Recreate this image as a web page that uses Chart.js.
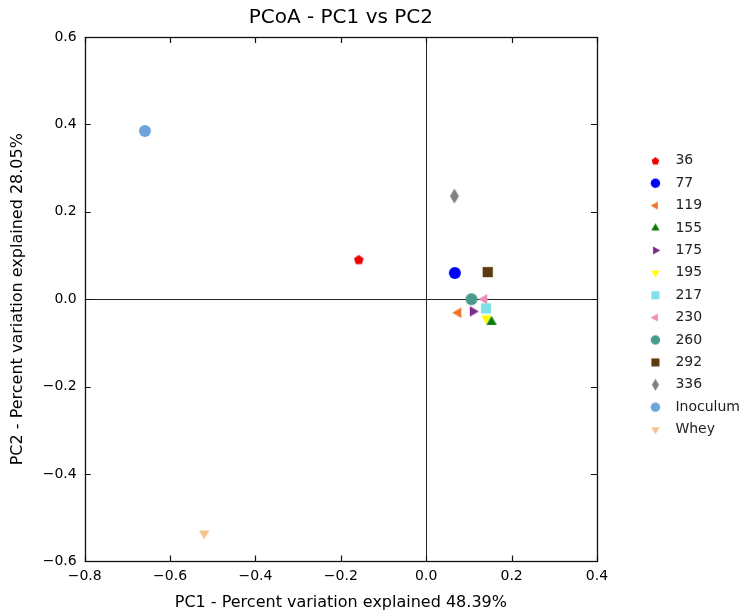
<!DOCTYPE html>
<html>
<head>
<meta charset="utf-8">
<script src="https://cdn.jsdelivr.net/npm/chart.js@4.4.1/dist/chart.umd.min.js"></script>
<style>
  html, body { margin: 0; padding: 0; background: #ffffff; }
  #wrap { width: 745px; height: 615px; }
</style>
</head>
<body>
<div id="wrap"><canvas id="c" width="745" height="615"></canvas></div>
<script>
// ---- data ----
const sampleLabels = ['36', '77', '119', '155', '175', '195', '217', '230', '260', '292', '336', 'Inoculum', 'Whey'];
const pc1Values = [-0.158, 0.067, 0.075, 0.153, 0.109, 0.141, 0.140, 0.136, 0.106, 0.144, 0.066, -0.659, -0.520];
const pc2Values = [0.091, 0.060, -0.031, -0.052, -0.028, -0.044, -0.021, 0.000, 0.000, 0.062, 0.236, 0.385, -0.536];
const xTickValues = [-0.8, -0.6, -0.4, -0.2, 0.0, 0.2, 0.4];
const yTickValues = [-0.6, -0.4, -0.2, 0.0, 0.2, 0.4, 0.6];
const chartTitle = 'PCoA - PC1 vs PC2';
const xAxisTitle = 'PC1 - Percent variation explained 48.39%';
const yAxisTitle = 'PC2 - Percent variation explained 28.05%';

// ---- styles ----
const markerShapes = ['pentagon', 'circle', 'triLeft', 'triUp', 'triRight', 'triDown', 'square', 'triLeft', 'circle', 'square', 'thinDiamond', 'circle', 'triDown'];
const markerColors = ['#f00000', '#0000ff', '#f07525', '#0a7a0a', '#7a2a8a', '#ffff00', '#80e0e8', '#f08cb8', '#4a9a8c', '#5c3a0e', '#808080', '#6fa3dc', '#f5c28c'];

Chart.defaults.font.family = "'DejaVu Sans', sans-serif";
Chart.defaults.color = '#000';

function makeMarker(shape, color, size) {
  const pad = 2;
  const c = document.createElement('canvas');
  const dim = Math.ceil(size * 1.3 + pad * 2);
  c.width = dim; c.height = dim;
  const g = c.getContext('2d');
  const cx = dim / 2, cy = dim / 2, r = size / 2;
  g.fillStyle = color;
  g.beginPath();
  if (shape === 'circle') {
    g.arc(cx, cy, r, 0, Math.PI * 2);
  } else if (shape === 'square') {
    const h = r * 0.85;
    g.rect(cx - h, cy - h, 2 * h, 2 * h);
  } else if (shape === 'pentagon') {
    const rr = r * 0.85;
    for (let i = 0; i < 5; i++) {
      const a = -Math.PI / 2 + i * 2 * Math.PI / 5;
      const px = cx + rr * Math.cos(a), py = cy + rr * Math.sin(a) + rr * 0.1;
      if (i === 0) g.moveTo(px, py); else g.lineTo(px, py);
    }
  } else if (shape === 'thinDiamond') {
    g.moveTo(cx, cy - r * 1.25);
    g.lineTo(cx + r * 0.75, cy);
    g.lineTo(cx, cy + r * 1.25);
    g.lineTo(cx - r * 0.75, cy);
  } else {
    let ang = 0;
    if (shape === 'triUp') ang = -Math.PI / 2;
    if (shape === 'triDown') ang = Math.PI / 2;
    if (shape === 'triLeft') ang = Math.PI;
    if (shape === 'triRight') ang = 0;
    for (let i = 0; i < 3; i++) {
      const a = ang + i * 2 * Math.PI / 3;
      const px = cx + r * Math.cos(a), py = cy + r * Math.sin(a);
      if (i === 0) g.moveTo(px, py); else g.lineTo(px, py);
    }
  }
  g.closePath();
  g.fill();
  return c;
}

const plotMarkers = sampleLabels.map((_, i) => makeMarker(markerShapes[i], markerColors[i], 12));
const legendMarkers = sampleLabels.map((_, i) => makeMarker(markerShapes[i], markerColors[i], 9.5));

const datasets = sampleLabels.map((lab, i) => ({
  label: lab,
  data: [{ x: pc1Values[i], y: pc2Values[i] }],
  pointStyle: plotMarkers[i],
  backgroundColor: markerColors[i],
  borderColor: markerColors[i],
  pointRadius: 6,
  pointHoverRadius: 6
}));

function fmt(v) {
  const s = (Math.abs(v) < 1e-9 ? 0 : v).toFixed(1);
  return s.replace('-', '\u2212');
}

const frameTicks = {
  id: 'frameTicks',
  afterLayout(chart) {
    if (chart.legend) { chart.legend.top -= 4; chart.legend.bottom -= 4; }
  },
  afterDraw(chart) {
    const { ctx, chartArea: a, scales } = chart;
    const xs = scales.x, ys = scales.y;
    ctx.save();
    ctx.strokeStyle = '#111';
    ctx.lineWidth = 1.2;
    const L = 6;
    ctx.beginPath();
    xTickValues.forEach(v => {
      const px = Math.round(xs.getPixelForValue(v)) + 0.5;
      ctx.moveTo(px, a.bottom); ctx.lineTo(px, a.bottom - L);
      ctx.moveTo(px, a.top); ctx.lineTo(px, a.top + L);
    });
    yTickValues.forEach(v => {
      const py = Math.round(ys.getPixelForValue(v)) + 0.5;
      ctx.moveTo(a.left, py); ctx.lineTo(a.left + L, py);
      ctx.moveTo(a.right, py); ctx.lineTo(a.right - L, py);
    });
    ctx.stroke();
    ctx.lineWidth = 1.3;
    ctx.strokeRect(Math.round(a.left) + 0.5, Math.round(a.top) + 0.5, Math.round(a.right - a.left), Math.round(a.bottom - a.top));
    ctx.restore();
  }
};

new Chart(document.getElementById('c'), {
  type: 'scatter',
  data: { datasets },
  options: {
    responsive: false,
    animation: false,
    layout: { padding: { left: 0, right: 0, top: 0, bottom: 0 } },
    plugins: {
      title: {
        display: true,
        text: chartTitle,
        fullSize: false,
        color: '#000',
        font: { size: 20, weight: 'normal' },
        padding: { top: 6, bottom: 7 }
      },
      legend: {
        position: 'right',
        fullSize: false,
        maxWidth: 111,
        labels: {
          usePointStyle: true,
          pointStyleWidth: 26,
          boxHeight: 14,
          padding: 8.4,
          color: '#222',
          font: { size: 14 },
          generateLabels(chart) {
            const items = Chart.defaults.plugins.legend.labels.generateLabels(chart);
            items.forEach(it => { it.pointStyle = legendMarkers[it.datasetIndex]; });
            return items;
          }
        }
      },
      tooltip: { enabled: false }
    },
    scales: {
      x: {
        type: 'linear',
        position: 'bottom',
        min: -0.8, max: 0.4,
        afterBuildTicks(s) { s.ticks = xTickValues.map(v => ({ value: v })); },
        ticks: { padding: 7, font: { size: 14 }, color: '#000', callback: v => fmt(v), maxRotation: 0 },
        grid: {
          drawTicks: false,
          color: c => (c.tick && Math.abs(c.tick.value) < 1e-9) ? '#222' : 'rgba(0,0,0,0)',
          lineWidth: 1
        },
        border: { display: false },
        title: { display: true, text: xAxisTitle, font: { size: 16 }, color: '#000', padding: { top: 1.2, bottom: 2.4 } }
      },
      y: {
        type: 'linear',
        position: 'left',
        min: -0.6, max: 0.6,
        afterBuildTicks(s) { s.ticks = yTickValues.map(v => ({ value: v })); },
        ticks: { padding: 8, font: { size: 14 }, color: '#000', callback: v => fmt(v) },
        grid: {
          drawTicks: false,
          color: c => (c.tick && Math.abs(c.tick.value) < 1e-9) ? '#222' : 'rgba(0,0,0,0)',
          lineWidth: 1
        },
        border: { display: false },
        title: { display: true, text: yAxisTitle, font: { size: 16 }, color: '#000', padding: { top: 8.4, bottom: 7.1 } }
      },
      gap: {
        type: 'linear',
        position: 'right',
        display: true,
        grid: { display: false, drawTicks: false },
        border: { display: false },
        ticks: { display: false },
        afterFit(s) { s.width = 37; }
      }
    }
  },
  plugins: [frameTicks]
});
</script>
</body>
</html>
